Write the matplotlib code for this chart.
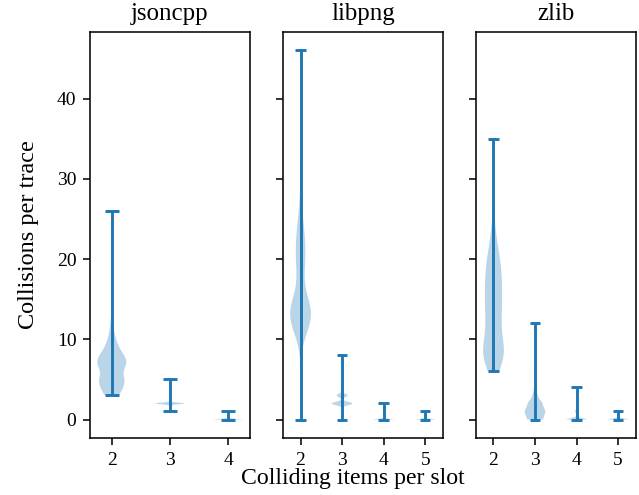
import matplotlib.pyplot as plt
import numpy as np

plt.rcParams['font.family'] = ['Liberation Serif', 'DejaVu Serif']

projects = ["jsoncpp", "libpng", "zlib"]

# colliding items per slot shown for each project
slots = {
    "jsoncpp": [2, 3, 4],
    "libpng": [2, 3, 4, 5],
    "zlib": [2, 3, 4, 5],
}

# collisions per trace: (value, how many traces)
jsoncpp_2 = [(3, 50), (4, 80), (5, 95), (6, 60), (7, 115), (8, 85), (9, 45),
             (10, 28), (11, 14), (12, 8), (13, 5), (14, 3), (15, 2), (17, 1),
             (20, 1), (26, 1)]
jsoncpp_3 = [(1, 3), (2, 200), (3, 3), (4, 1), (5, 1)]
jsoncpp_4 = [(0, 100), (1, 5)]

libpng_2 = [(0, 1), (8, 2), (9, 5), (10, 15), (11, 35), (12, 55), (13, 65),
            (14, 60), (15, 40), (16, 20), (17, 15), (18, 18), (19, 22),
            (20, 25), (21, 25), (22, 25), (23, 22), (24, 18), (25, 12),
            (26, 8), (27, 5), (28, 3), (29, 2), (30, 1), (32, 1), (35, 1),
            (40, 1), (46, 1)]
libpng_3 = [(0, 3), (1, 5), (2, 300), (3, 160), (4, 35), (5, 2), (8, 1)]
libpng_4 = [(0, 150), (1, 5), (2, 1)]
libpng_5 = [(0, 80), (1, 4)]

zlib_2 = [(6, 20), (7, 35), (8, 45), (9, 42), (10, 30), (11, 25), (12, 26),
          (13, 28), (14, 30), (15, 30), (16, 30), (17, 30), (18, 29),
          (19, 27), (20, 24), (21, 19), (22, 13), (23, 8), (24, 6), (25, 4),
          (26, 3), (27, 2), (28, 2), (29, 1), (30, 1), (32, 1), (35, 1)]
zlib_3 = [(0, 100), (1, 130), (2, 90), (3, 30), (4, 12), (5, 6), (6, 4),
          (7, 2), (8, 1), (9, 1), (10, 1), (12, 1)]
zlib_4 = [(0, 200), (1, 30), (2, 3), (3, 1), (4, 1)]
zlib_5 = [(0, 50), (1, 5)]

collisions = {
    "jsoncpp": [jsoncpp_2, jsoncpp_3, jsoncpp_4],
    "libpng": [libpng_2, libpng_3, libpng_4, libpng_5],
    "zlib": [zlib_2, zlib_3, zlib_4, zlib_5],
}


def expand(pairs):
    vals = [v for v, c in pairs]
    counts = [c for v, c in pairs]
    return np.repeat(vals, counts).astype(float)


dpi = 140
fig, axs = plt.subplots(1, 3, sharey=True, figsize=(639 / dpi, 495 / dpi), dpi=dpi)
fig.subplots_adjust(left=0.1408, right=0.995, bottom=0.1152, top=0.9354, wspace=0.206)

for ax, name in zip(axs, projects):
    data = [expand(p) for p in collisions[name]]
    ax.violinplot(data, positions=slots[name])
    ax.set_xticks(slots[name])
    ax.set_title(name, fontsize=12.8)

axs[0].set_yticks([0, 10, 20, 30, 40])
axs[0].set_ylabel("Collisions per trace", fontsize=12.5, labelpad=9)
fig.text(353 / 639, 0.033, "Colliding items per slot", ha="center", va="center", fontsize=12.2)

fig.savefig("out.png", dpi=dpi)
